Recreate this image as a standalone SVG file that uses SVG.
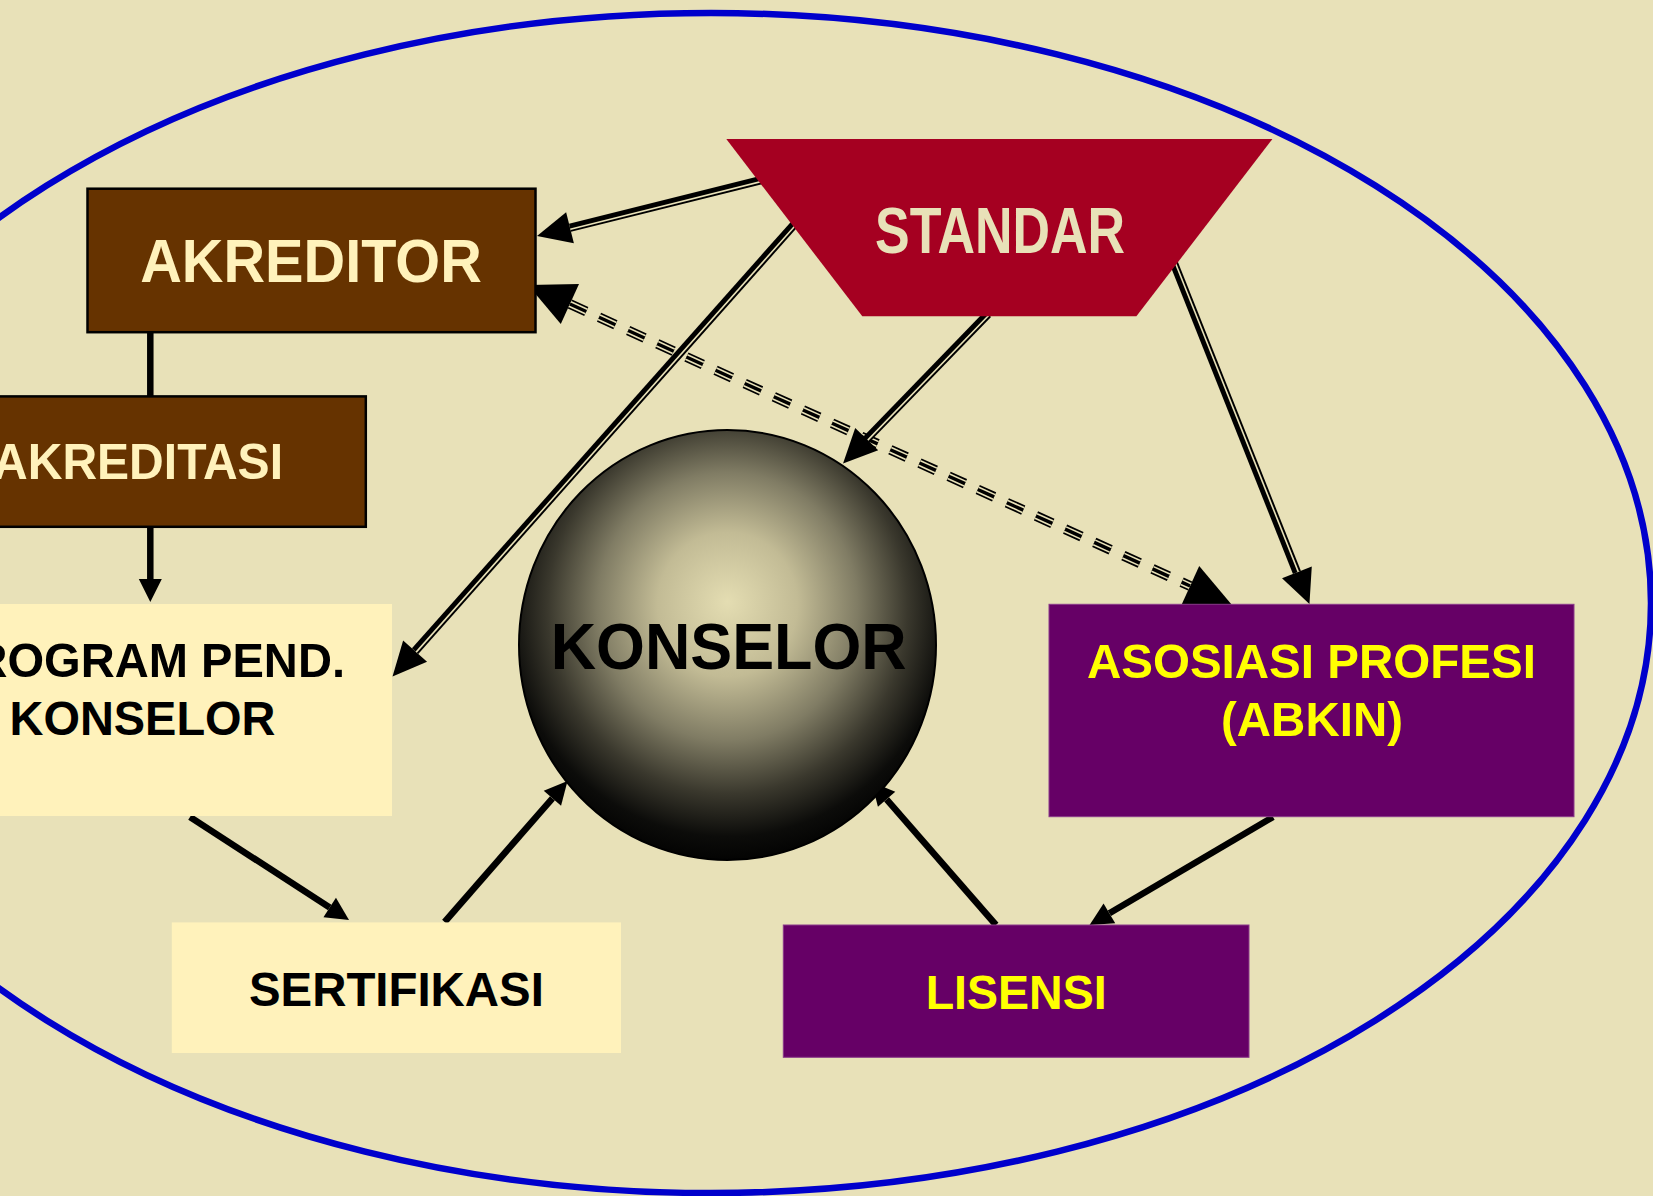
<svg xmlns="http://www.w3.org/2000/svg" width="1653" height="1196" viewBox="0 0 1653 1196">
<style>
.t{font-family:"Liberation Sans",Arial,sans-serif;font-weight:bold}
.dbl{fill:none;stroke:#000;stroke-width:8.5}
.gap{fill:none;stroke:#E8E1B8;stroke-width:1.6}
.sgl{fill:none;stroke:#000;stroke-width:6.5}
.dsh1{fill:none;stroke:#000;stroke-width:10;stroke-dasharray:18 14}
.dsh2{fill:none;stroke:#E8E1B8;stroke-width:6.6;stroke-dasharray:18 14}
.dsh3{fill:none;stroke:#000;stroke-width:3.4;stroke-dasharray:18 14}
</style>
<defs>
<marker id="hs" markerUnits="userSpaceOnUse" viewBox="0 0 23 23" markerWidth="23" markerHeight="23" refX="0" refY="11.5" orient="auto" overflow="visible"><path d="M0,0 L23,11.5 L0,23 z" fill="#000"/></marker>
<marker id="hd" markerUnits="userSpaceOnUse" viewBox="0 0 34 32" markerWidth="34" markerHeight="32" refX="0" refY="16" orient="auto" overflow="visible"><path d="M0,0 L34,16 L0,32 z" fill="#000"/></marker>
<marker id="hb" markerUnits="userSpaceOnUse" viewBox="0 0 46 44" markerWidth="46" markerHeight="44" refX="0" refY="22" orient="auto-start-reverse" overflow="visible"><path d="M0,0 L46,22 L0,44 z" fill="#000"/></marker>
<radialGradient id="sphere" cx="0.5" cy="0.42" r="0.6" fx="0.5" fy="0.4">
<stop offset="0" stop-color="#E4DDB2"/>
<stop offset="0.28" stop-color="#C2BB95"/>
<stop offset="0.52" stop-color="#807C64"/>
<stop offset="0.72" stop-color="#3A382D"/>
<stop offset="0.88" stop-color="#0C0C0A"/>
<stop offset="1" stop-color="#000"/>
</radialGradient>
</defs>
<rect width="1653" height="1196" fill="#E8E1B8"/>
<ellipse id="boundary" cx="711" cy="603" rx="940" ry="590" fill="none" stroke="#0000CC" stroke-width="6.5"/>
<g id="connectors">
<path class="dsh1" d="M569.9,304 L1190.1,586" marker-start="url(#hb)" marker-end="url(#hb)"/>
<path class="dsh2" d="M569.9,304 L1190.1,586"/>
<path class="dsh3" d="M569.9,304 L1190.1,586"/>
<path class="dbl" d="M765,179 L570,227.75" marker-end="url(#hd)"/>
<path class="gap" d="M765.4,180.5 L570.4,229.2"/>
<path class="dbl" d="M800,218 L415.1,651.1" marker-end="url(#hd)"/>
<path class="gap" d="M801.1,219 L416.2,652.1"/>
<path class="dbl" d="M988,314 L866.7,439.1" marker-end="url(#hd)"/>
<path class="gap" d="M989.1,315 L867.8,440.1"/>
<path class="dbl" d="M1171,256 L1296.9,572.4" marker-end="url(#hd)"/>
<path class="gap" d="M1172.4,255.45 L1298.3,571.85"/>
<path class="sgl" d="M150.3,332 L150.3,396"/>
<path class="sgl" d="M150.3,527 L150.3,579" marker-end="url(#hs)"/>
<path class="sgl" d="M190,817 L329.7,907.5" marker-end="url(#hs)"/>
<path class="sgl" d="M444.6,922 L552.4,798.3" marker-end="url(#hs)"/>
<path class="sgl" d="M996,925 L886.6,799.3" marker-end="url(#hs)"/>
<path class="sgl" d="M1273,817 L1109.4,913.3" marker-end="url(#hs)"/>
</g>
<g id="standar">
<polygon points="726.3,139 1272.4,139 1136.4,316.3 862.3,316.3" fill="#A50021"/>
<text class="t" x="1000" y="253.3" font-size="64" fill="#E8E1B8" text-anchor="middle" textLength="250" lengthAdjust="spacingAndGlyphs">STANDAR</text>
</g>
<g id="akreditor">
<rect x="87.5" y="188.7" width="448" height="143.5" fill="#663300" stroke="#000" stroke-width="2.5"/>
<text class="t" x="311" y="282.3" font-size="62" fill="#FFF2BB" text-anchor="middle" textLength="341.5" lengthAdjust="spacingAndGlyphs">AKREDITOR</text>
</g>
<g id="akreditasi">
<rect x="-10" y="396.4" width="375.8" height="130.4" fill="#663300" stroke="#000" stroke-width="2.5"/>
<text class="t" x="283" y="479.3" font-size="50" fill="#FFF2BB" text-anchor="end" textLength="290" lengthAdjust="spacingAndGlyphs">AKREDITASI</text>
</g>
<g id="program">
<rect x="-10" y="604" width="402" height="212" fill="#FFF2BB"/>
<text class="t" x="143.5" y="676.7" font-size="49" fill="#000" text-anchor="middle" textLength="403" lengthAdjust="spacingAndGlyphs">PROGRAM PEND.</text>
<text class="t" x="142.5" y="735" font-size="49" fill="#000" text-anchor="middle" textLength="266" lengthAdjust="spacingAndGlyphs">KONSELOR</text>
</g>
<g id="sertifikasi">
<rect x="171.8" y="922.4" width="449.2" height="130.6" fill="#FFF2BB"/>
<text class="t" x="396.4" y="1006" font-size="48" fill="#000" text-anchor="middle" textLength="294.8" lengthAdjust="spacingAndGlyphs">SERTIFIKASI</text>
</g>
<g id="konselor">
<ellipse cx="727.5" cy="645" rx="208.5" ry="215" fill="url(#sphere)" stroke="#000" stroke-width="2"/>
<text class="t" x="728.7" y="669" font-size="65" fill="#000" text-anchor="middle" textLength="356" lengthAdjust="spacingAndGlyphs">KONSELOR</text>
</g>
<g id="asosiasi">
<rect x="1049" y="604.3" width="525" height="212.4" fill="#660066" stroke="#8A3A8A" stroke-width="1"/>
<text class="t" x="1311.4" y="678" font-size="49" fill="#FFFF00" text-anchor="middle" textLength="449" lengthAdjust="spacingAndGlyphs">ASOSIASI PROFESI</text>
<text class="t" x="1312" y="735.7" font-size="49" fill="#FFFF00" text-anchor="middle" textLength="182" lengthAdjust="spacingAndGlyphs">(ABKIN)</text>
</g>
<g id="lisensi">
<rect x="783.3" y="925" width="465.7" height="132.3" fill="#660066" stroke="#8A3A8A" stroke-width="1"/>
<text class="t" x="1016.2" y="1009.3" font-size="49" fill="#FFFF00" text-anchor="middle" textLength="181" lengthAdjust="spacingAndGlyphs">LISENSI</text>
</g>
</svg>
